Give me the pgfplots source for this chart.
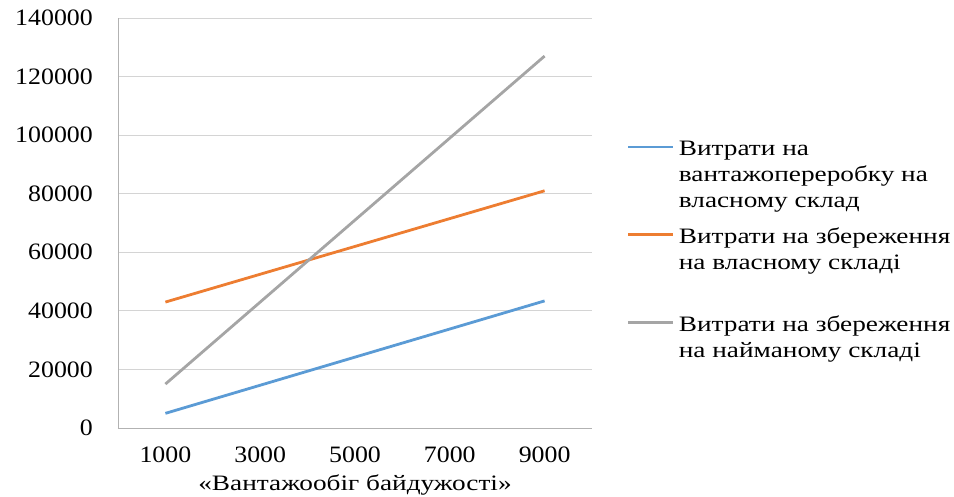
\documentclass[border=0pt]{standalone}
\usepackage{pgfplots}
\pgfplotsset{compat=1.18}
\usepackage{fontspec}
\setmainfont{Liberation Serif}
\newfontfamily\tickfont{Liberation Serif}[FakeStretch=1.1]
\newfontfamily\labfont{Liberation Serif}[FakeStretch=1.24]
\definecolor{cblue}{RGB}{91,155,213}
\definecolor{corange}{RGB}{237,125,49}
\definecolor{cgray}{RGB}{165,165,165}
\begin{document}
\begin{tikzpicture}[x=1pt,y=1pt]
\useasboundingbox (0,0) rectangle (954,497);
\begin{axis}[
  at={(118pt,69pt)}, anchor=south west,
  scale only axis, width=474pt, height=410pt,
  xmin=0, xmax=10000, ymin=0, ymax=140000,
  scaled ticks=false,
  xtick={1000,3000,5000,7000,9000},
  xticklabels={1000,3000,5000,7000,9000},
  ytick={0,20000,40000,60000,80000,100000,120000,140000},
  yticklabels={0,20000,40000,60000,80000,100000,120000,140000},
  axis lines*=left,
  axis line style={color=black!30, line width=0.8pt},
  ymajorgrids,
  major grid style={color=black!17, line width=0.8pt},
  tick style={draw=none},
  tick label style={font=\tickfont\fontsize{23.5}{28}\selectfont, inner sep=0pt},
  yticklabel style={xshift=-25pt},
  xticklabel style={yshift=-19pt},
  xlabel={«Вантажообіг байдужості»},
  xlabel style={font=\labfont\fontsize{22}{26}\selectfont, at={(axis description cs:0.5,-0.14)}, anchor=center},
  legend style={at={(1.074,0.708)}, anchor=north west, draw=none, fill=none,
    inner sep=0pt, outer sep=0pt,
    font=\labfont\fontsize{22}{26}\selectfont,
    cells={anchor=base west, align=left},
    nodes={inner sep=0pt}, row sep=16pt, column sep=4pt},
  legend image code/.code={\draw[#1, line width=2.8pt] (0pt,61pt) -- (45pt,61pt);},
]
\addplot[color=cblue, line width=2.8pt] coordinates {(1000,5000) (3000,14600) (5000,24200) (7000,33800) (9000,43400)};
\addlegendentry{\strut Витрати на\\вантажопереробку на\\власному склад\strut}
\addplot[color=corange, line width=2.8pt] coordinates {(1000,43000) (3000,52500) (5000,62000) (7000,71500) (9000,81000)};
\addlegendentry{\strut Витрати на збереження\\на власному складі\\\strut}
\addplot[color=cgray, line width=2.8pt] coordinates {(1000,15000) (3000,43000) (5000,71000) (7000,99000) (9000,127000)};
\addlegendentry{\strut Витрати на збереження\\на найманому складі\\\strut}
\end{axis}
\end{tikzpicture}
\end{document}
